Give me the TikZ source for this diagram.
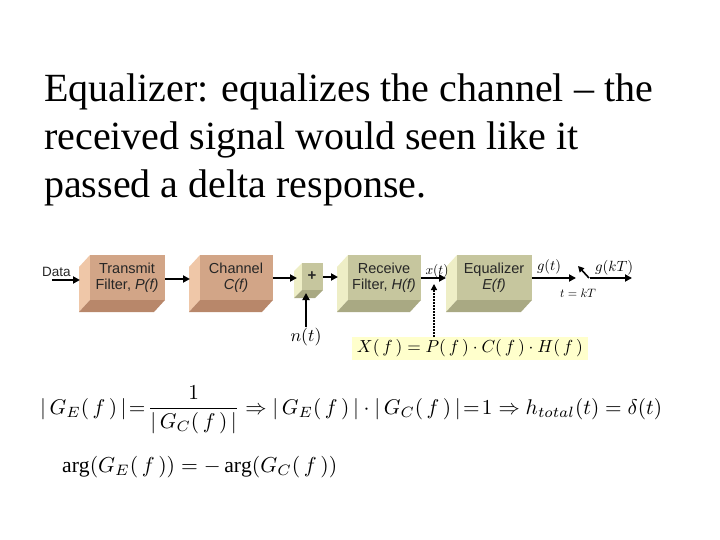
\documentclass[tikz,border=0pt]{standalone}
\usepackage{amsmath}
\usepackage{graphicx}
\usepackage{fontspec}
\setmainfont{Liberation Serif}
\newfontfamily\sans{Liberation Sans}
\usetikzlibrary{arrows.meta}
\definecolor{tanF}{HTML}{D2A587}
\definecolor{tanL}{HTML}{EFC7A8}
\definecolor{tanB}{HTML}{B8876A}
\definecolor{grnF}{HTML}{C6C69E}
\definecolor{grnL}{HTML}{EEEEC6}
\definecolor{grnB}{HTML}{A9A983}
\definecolor{yel}{HTML}{FFFFCC}
\newcommand{\blk}[8]{% x1 y1 x2 y2 dx dy front left/bottom prefix
  \fill[#8L] (#1,#2) -- ++(-#5,#6) -- (#1-#5,#4+#6) -- (#1,#4) -- cycle;
  \fill[#8B] (#1-#5,#4+#6) -- (#3-#5,#4+#6) -- (#3,#4) -- (#1,#4) -- cycle;
  \fill[#8F] (#1,#2) rectangle (#3,#4);
}
\begin{document}
\begin{tikzpicture}[x=1pt,y=-1pt,
  arr/.style={-{Triangle[length=7pt,width=7pt]},line width=2.2pt},
  lbl/.style={font=\sans\fontsize{14.5}{16}\selectfont,align=center,text=black!85},
  mth/.style={inner sep=0pt},
  ttl/.style={anchor=base west,font=\fontsize{40}{48}\selectfont,inner sep=0pt}]
\useasboundingbox (0,0) rectangle (720,540);
\node[ttl] (t1) at (44,102) {Equalizer: equalizes the channel -- the};
\node[ttl] (t2) at (44,150) {received signal would seen like it};
\node[ttl] (t3) at (44,198) {passed a delta response.};
% blocks
\blk{90}{255}{165}{300}{11}{12}{}{tan}
\blk{200}{255}{273}{300}{11}{12}{}{tan}
\blk{302}{263}{323}{290}{8}{8}{}{grn}
\blk{348}{255}{421}{300}{11}{12}{}{grn}
\blk{457}{255}{532}{300}{11}{12}{}{grn}
\node[lbl] (tx) at (127,278) {Transmit\\Filter, \textit{P(f)}};
\node[lbl] (ch) at (236,278) {Channel\\\textit{C(f)}};
\node[lbl,font=\sans\bfseries\fontsize{15}{15}\selectfont] (sum) at (312,276) {+};
\node[lbl] (rx) at (384,278) {Receive\\Filter, \textit{H(f)}};
\node[lbl] (eq) at (494,278) {Equalizer\\\textit{E(f)}};
\node[lbl,anchor=west,inner sep=0pt,font=\sans\fontsize{13.5}{14}\selectfont] (data) at (42,272) {Data};
\coordinate (d0) at (52,280); \coordinate (d1) at (80,280);
\draw[arr] (d0) -- (d1);
\draw[arr] (165,279) -- (190,279);
\draw[arr] (273,278) -- (297,278);
\draw[arr] (323,277) -- (338,277);
\draw[arr] (421,278) -- (446,278);
\node[mth] (nt) at (306,337) {\resizebox{31pt}{!}{$n(t)$}};
\draw[arr] (306,327) -- (306,293);
\node[mth] (xt) at (437,271) {\resizebox{23pt}{!}{$x(t)$}};
\node[fill=yel,minimum width=236pt,minimum height=23pt,inner sep=0pt] (X) at (470,348)
 {\resizebox{226pt}{!}{$X(\,f\,)=P(\,f\,)\cdot C(\,f\,)\cdot H(\,f\,)$}};
\draw[-{Triangle[length=6pt,width=6pt]},line width=1.2pt,dash pattern=on 2pt off 1pt] (434,337) -- (434,284);
\node[mth] (gt) at (549,267) {\resizebox{24pt}{!}{$g(t)$}};
\node[mth] (gk) at (614,268) {\resizebox{38pt}{!}{$g(kT)$}};
\node[mth] (kt) at (578,293) {\resizebox{36pt}{!}{$t=kT$}};
\draw[arr] (532,278) -- (576,278);
\draw[-{Triangle[length=6pt,width=6pt]},line width=1.6pt] (589,278) -- (578,266);
\draw[arr] (590,278) -- (632,278);
% equations
\node[anchor=west,inner sep=0pt] (e1) at (40,410)
 {\resizebox{622pt}{!}{$|\,G_E(\,f\,)\,|\!=\!\dfrac{1}{|\,G_C(\,f\,)\,|}\Rightarrow|\,G_E(\,f\,)\,|\cdot|\,G_C(\,f\,)\,|\!=\!1\Rightarrow h_{total}(t)=\delta(t)$}};
\node[anchor=west,inner sep=0pt] (e2) at (62,467)
 {\resizebox{275pt}{!}{$\arg(G_E(\,f\,))=-\arg(G_C(\,f\,))$}};
\end{tikzpicture}
\end{document}
